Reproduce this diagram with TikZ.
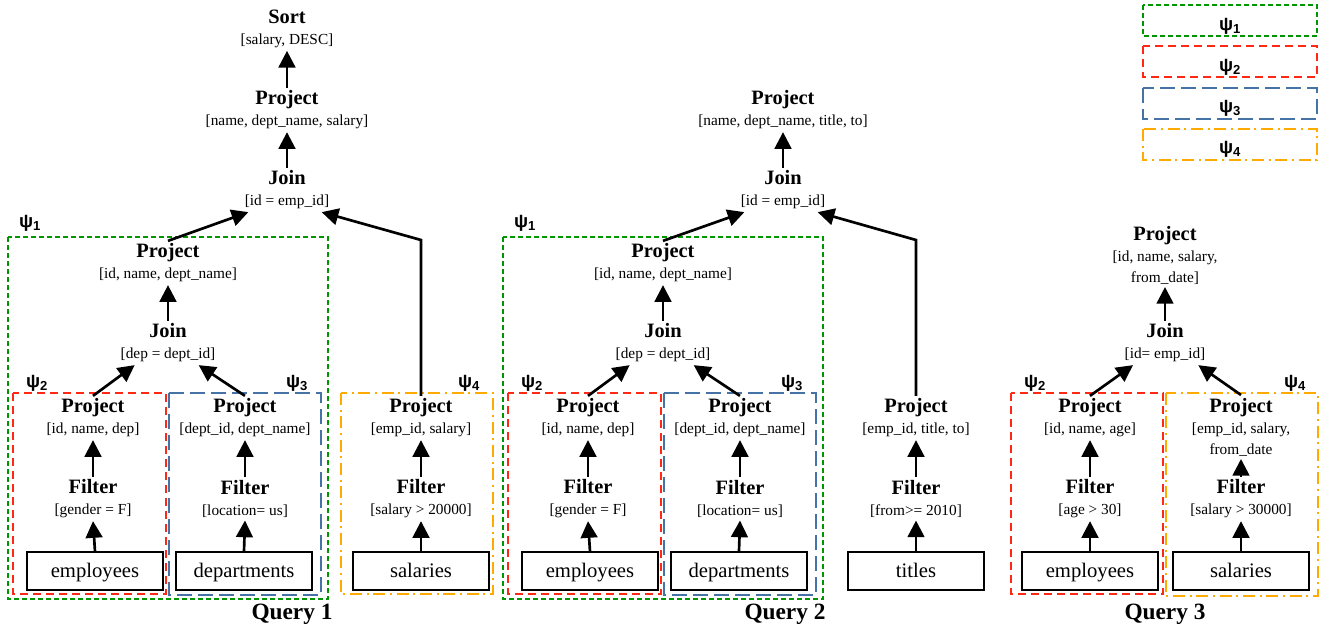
\documentclass[tikz,border=0pt]{standalone}
\usepackage{fontspec}
\setmainfont{Liberation Serif}
\newfontfamily\psifont{Liberation Sans}
\usetikzlibrary{arrows.meta}

\definecolor{psigreen}{RGB}{0,150,0}
\definecolor{psired}{RGB}{255,40,20}
\definecolor{psiblue}{RGB}{70,115,165}
\definecolor{psiorange}{RGB}{255,170,0}

\newcommand{\opname}[2]{{\fontsize{15.3}{15.75}\selectfont\bfseries #1}\\\relax #2}
\newcommand{\psilab}[1]{ψ\textsubscript{#1}}

\tikzset{
  op/.style={align=center, inner sep=2pt, yshift=-1.5pt, font=\fontsize{11.5}{15.75}\selectfont},
  tbl/.style={draw, line width=1.5pt, minimum width=102pt, minimum height=28pt,
    inner sep=0pt, text height=12pt, text depth=3pt, font=\fontsize{15.5}{18}\selectfont},
  up/.style={line width=2pt, -{Triangle[width=12.5pt,length=12.5pt]}},
  psilbl/.style={font=\fontsize{14}{16}\psifont\bfseries},
  qlbl/.style={font=\fontsize{17.5}{20}\selectfont\bfseries},
  grp1/.style={draw=psigreen, line width=1.6pt, dash pattern=on 3.75pt off 2.25pt},
  grp2/.style={draw=psired, line width=1.6pt, dash pattern=on 6pt off 3.75pt},
  grp3/.style={draw=psiblue, line width=1.6pt, dash pattern=on 11.25pt off 4.5pt},
  grp4/.style={draw=psiorange, line width=1.6pt, dash pattern=on 9pt off 3.5pt on 1.5pt off 3.5pt},
}

\begin{document}
\begin{tikzpicture}[x=0.75pt, y=-0.75pt]
        \useasboundingbox (0,0) rectangle (1325,631);

        \node[op] (q1sort) at (287,27) {\opname{Sort}{[salary, DESC]}};
        \node[op] (q1proj) at (287,108) {\opname{Project}{[name, dept\_name, salary]}};
        \node[op] (q1join) at (287,188) {\opname{Join}{[id = emp\_id]}};
        \node[op] (q1pa) at (168,261) {\opname{Project}{[id, name, dept\_name]}};
        \node[op] (q1jb) at (168,341) {\opname{Join}{[dep = dept\_id]}};
        \node[op] (q1pe) at (93,416) {\opname{Project}{[id, name, dep]}};
        \node[op] (q1fe) at (93,497) {\opname{Filter}{[gender = F]}};
        \node[tbl] (q1emp) at (95,571) {employees};
        \node[op] (q1pd) at (245,416) {\opname{Project}{[dept\_id, dept\_name]}};
        \node[op] (q1fd) at (245,497) {\opname{Filter}{[location= us]}};
        \node[tbl] (q1dep) at (244,571) {departments};
        \node[op] (q1ps) at (421,416) {\opname{Project}{[emp\_id, salary]}};
        \node[op] (q1fs) at (421,497) {\opname{Filter}{[salary > 20000]}};
        \node[tbl] (q1sal) at (421,571) {salaries};
        \coordinate (q1bend) at (421,240);

        \node[op] (q2proj) at (783,108) {\opname{Project}{[name, dept\_name, title, to]}};
        \node[op] (q2join) at (783,188) {\opname{Join}{[id = emp\_id]}};
        \node[op] (q2pa) at (663,261) {\opname{Project}{[id, name, dept\_name]}};
        \node[op] (q2jb) at (663,341) {\opname{Join}{[dep = dept\_id]}};
        \node[op] (q2pe) at (588,416) {\opname{Project}{[id, name, dep]}};
        \node[op] (q2fe) at (588,497) {\opname{Filter}{[gender = F]}};
        \node[tbl] (q2emp) at (590,571) {employees};
        \node[op] (q2pd) at (740,416) {\opname{Project}{[dept\_id, dept\_name]}};
        \node[op] (q2fd) at (740,497) {\opname{Filter}{[location= us]}};
        \node[tbl] (q2dep) at (739,571) {departments};
        \node[op] (q2pt) at (916,416) {\opname{Project}{[emp\_id, title, to]}};
        \node[op] (q2ft) at (916,497) {\opname{Filter}{[from>= 2010]}};
        \node[tbl] (q2tit) at (916,571) {titles};
        \coordinate (q2bend) at (916,240);

        \node[op] (q3proj) at (1165,253) {\opname{Project}{[id, name, salary,\\from\_date]}};
        \node[op] (q3join) at (1165,341) {\opname{Join}{[id= emp\_id]}};
        \node[op] (q3pe) at (1090,416) {\opname{Project}{[id, name, age]}};
        \node[op] (q3fe) at (1090,497) {\opname{Filter}{[age > 30]}};
        \node[tbl] (q3emp) at (1090,571) {employees};
        \node[op] (q3ps) at (1241,425) {\opname{Project}{[emp\_id, salary,\\from\_date}};
        \node[op] (q3fs) at (1241,497) {\opname{Filter}{[salary > 30000]}};
        \node[tbl] (q3sal) at (1241,571) {salaries};

        \draw[grp1] (8,237) rectangle (328,599);
        \draw[grp2] (13,393) rectangle (166,594);
        \draw[grp3] (169,393) rectangle (321,595);
        \draw[grp4] (341,393) rectangle (493,594);
        \draw[grp1] (503,237) rectangle (823,599);
        \draw[grp2] (508,393) rectangle (661,594);
        \draw[grp3] (664,393) rectangle (816,595);
        \draw[grp2] (1011,393) rectangle (1163,594);
        \draw[grp4] (1166,393) rectangle (1318,596);

        \node[psilbl] (q1g1) at (30,223) {\psilab{1}};
        \node[psilbl] (q1g2) at (37,383) {\psilab{2}};
        \node[psilbl] (q1g3) at (297,383) {\psilab{3}};
        \node[psilbl] (q1g4) at (469,383) {\psilab{4}};
        \node[psilbl] (q2g1) at (525,223) {\psilab{1}};
        \node[psilbl] (q2g2) at (532,383) {\psilab{2}};
        \node[psilbl] (q2g3) at (792,383) {\psilab{3}};
        \node[psilbl] (q3g2) at (1035,383) {\psilab{2}};
        \node[psilbl] (q3g4) at (1295,383) {\psilab{4}};

        \node[qlbl] (q1lbl) at (292,614) {Query 1};
        \node[qlbl] (q2lbl) at (785,614) {Query 2};
        \node[qlbl] (q3lbl) at (1165,614) {Query 3};

        \draw[grp1] (1143,5) rectangle (1317,36);
        \draw[grp2] (1143,46) rectangle (1317,77);
        \draw[grp3] (1143,88) rectangle (1317,119);
        \draw[grp4] (1143,129) rectangle (1317,160);
        \node[psilbl] (key1) at (1230,26) {\psilab{1}};
        \node[psilbl] (key2) at (1230,67) {\psilab{2}};
        \node[psilbl] (key3) at (1230,108) {\psilab{3}};
        \node[psilbl] (key4) at (1230,149) {\psilab{4}};

        \draw[up] (q1proj.north) -- (q1sort.south);
        \draw[up] (q1join.north) -- (q1proj.south);
        \draw[up] (q1pa.north) -- ([xshift=-29pt]q1join.south);
        \draw[up] (q1ps.north) -- (q1bend) -- ([xshift=26pt]q1join.south);
        \draw[up] (q1jb.north) -- (q1pa.south);
        \draw[up] (q1pe.north) -- ([xshift=-25pt]q1jb.south);
        \draw[up] (q1pd.north) -- ([xshift=23pt]q1jb.south);
        \draw[up] (q1fe.north) -- (q1pe.south);
        \draw[up] (q1emp.north) -- (q1fe.south);
        \draw[up] (q1fd.north) -- (q1pd.south);
        \draw[up] (q1dep.north) -- (q1fd.south);
        \draw[up] (q1fs.north) -- (q1ps.south);
        \draw[up] (q1sal.north) -- (q1fs.south);

        \draw[up] (q2join.north) -- (q2proj.south);
        \draw[up] (q2pa.north) -- ([xshift=-29pt]q2join.south);
        \draw[up] (q2pt.north) -- (q2bend) -- ([xshift=26pt]q2join.south);
        \draw[up] (q2jb.north) -- (q2pa.south);
        \draw[up] (q2pe.north) -- ([xshift=-25pt]q2jb.south);
        \draw[up] (q2pd.north) -- ([xshift=23pt]q2jb.south);
        \draw[up] (q2fe.north) -- (q2pe.south);
        \draw[up] (q2emp.north) -- (q2fe.south);
        \draw[up] (q2fd.north) -- (q2pd.south);
        \draw[up] (q2dep.north) -- (q2fd.south);
        \draw[up] (q2ft.north) -- (q2pt.south);
        \draw[up] (q2tit.north) -- (q2ft.south);

        \draw[up] (q3join.north) -- (q3proj.south);
        \draw[up] (q3pe.north) -- ([xshift=-24pt]q3join.south);
        \draw[up] (q3ps.north) -- ([xshift=25pt]q3join.south);
        \draw[up] (q3fe.north) -- (q3pe.south);
        \draw[up] (q3emp.north) -- (q3fe.south);
        \draw[up] (q3fs.north) -- (q3ps.south);
        \draw[up] (q3sal.north) -- (q3fs.south);
    \end{tikzpicture}
\end{document}
